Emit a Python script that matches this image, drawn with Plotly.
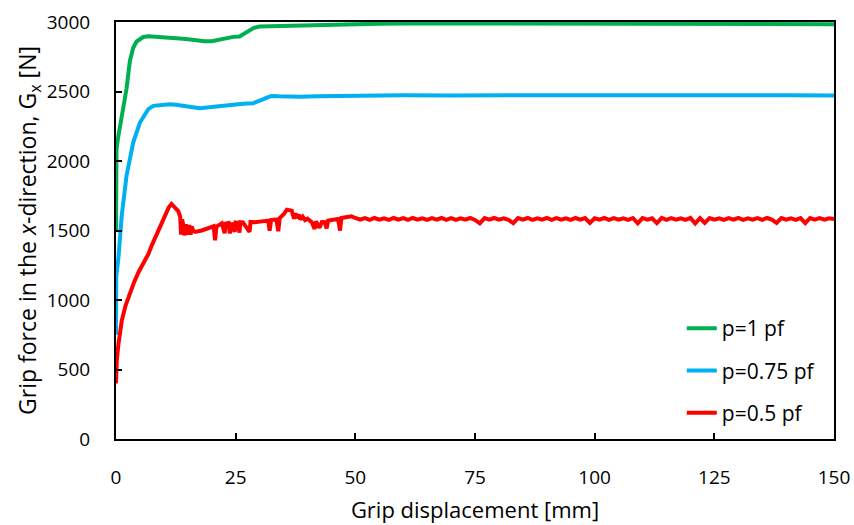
import plotly.graph_objects as go

# ---- data ----
green_x = [0, 0.1, 0.4, 0.9, 1.5, 2.2, 2.9, 3.6, 4.3, 5.0, 5.7, 6.75, 8.0, 9.5, 11.0, 12.5, 14.0,
           15.5, 17.0, 18.5, 20.0, 21.5, 23.0, 24.5, 25.8, 26.8, 27.8, 28.8, 30.0, 32.0, 35.0,
           38.0, 42.0, 46.0, 50.0, 55.0, 60.0, 70.0, 80.0, 90.0, 100.0, 110.0, 120.0, 130.0,
           140.0, 150.0]
green_y = [1490, 2080, 2160, 2260, 2360, 2520, 2720, 2815, 2860, 2880, 2892, 2898, 2896, 2890,
           2888, 2885, 2880, 2874, 2866, 2862, 2862, 2872, 2886, 2893, 2896, 2915, 2938, 2958,
           2968, 2970, 2972, 2976, 2980, 2984, 2988, 2988, 2990, 2990, 2988, 2990, 2988, 2990,
           2988, 2988, 2986, 2984]

blue_x = [0, 0.05, 0.5, 1.2, 2.2, 3.0, 3.6, 5.0, 6.0, 6.75, 7.8, 9.5, 11.3, 12.5, 14.0, 16.0,
          17.5, 19.0, 21.0, 23.0, 24.5, 26.5, 28.7, 30.0, 30.8, 31.8, 32.5, 34.0, 36.0, 38.4,
          42.0, 46.0, 50.0, 60.0, 70.0, 80.0, 90.0, 100.0, 110.0, 120.0, 130.0, 140.0, 150.0]
blue_y = [750, 1170, 1300, 1607, 1894, 2040, 2134, 2277, 2340, 2373, 2397, 2403, 2409, 2405,
          2397, 2388, 2380, 2385, 2392, 2400, 2409, 2412, 2416, 2430, 2445, 2460, 2468, 2465,
          2462, 2462, 2465, 2468, 2472, 2473, 2472, 2473, 2472, 2473, 2472, 2473, 2472, 2473,
          2472]

red_x_start = [0, 0.15, 0.5, 1.2, 2.0, 2.8, 3.8, 4.7, 5.7, 6.75, 7.5, 8.3, 9.2, 10.2, 11.0, 11.6,
               12.3, 13.0, 13.4, 13.6, 13.8, 14.0, 14.3, 14.6, 14.9, 15.3, 15.6, 15.8, 16.1, 16.5,
               17.9, 19.0, 20.4, 20.7, 21.0, 22.1, 22.7, 22.9, 23.5, 23.8, 24.1, 24.8, 25.0, 25.4,
               25.8, 26.0, 26.5, 27.9, 28.1, 29.0, 30.0, 31.0, 31.8, 32.1, 32.4, 33.5, 33.9, 34.2,
               35.0, 35.7, 36.7, 37.2, 37.5, 37.7, 38.2, 38.5, 39.0, 39.5, 40.0, 40.9, 41.5, 41.8,
               42.5, 43.0, 43.6, 44.0, 44.3, 45.0, 46.4, 46.8, 47.1, 48.0, 49.2]
red_y_start = [400, 560, 680, 850, 960, 1040, 1130, 1200, 1260, 1330, 1395, 1460, 1535, 1610, 1665,
               1691, 1670, 1640, 1600, 1470, 1580, 1550, 1465, 1545, 1470, 1540, 1470, 1530, 1500,
               1490, 1500, 1515, 1530, 1430, 1528, 1552, 1480, 1550, 1555, 1478, 1556, 1490, 1558,
               1556, 1485, 1560, 1558, 1490, 1562, 1560, 1565, 1568, 1571, 1499, 1575, 1580, 1495,
               1590, 1615, 1650, 1643, 1585, 1625, 1590, 1615, 1580, 1600, 1575, 1585, 1559, 1511,
               1565, 1520, 1560, 1559, 1515, 1570, 1575, 1583, 1499, 1590, 1595, 1602]
# plateau 50..150 mm, one reading per mm
red_x_plateau = list(range(50, 151))
red_y_plateau = [1590, 1578, 1589, 1577, 1590, 1578, 1588, 1577, 1590, 1578,   # 50-59
                 1589, 1576, 1590, 1578, 1588, 1577, 1589, 1578, 1590, 1577,   # 60-69
                 1589, 1577, 1588, 1578, 1590, 1576, 1552, 1589, 1578, 1590,   # 70-79
                 1578, 1588, 1577, 1553, 1589, 1578, 1590, 1576, 1588, 1578,   # 80-89
                 1590, 1577, 1589, 1578, 1588, 1576, 1590, 1578, 1589, 1554,   # 90-99
                 1588, 1578, 1590, 1576, 1589, 1578, 1588, 1577, 1590, 1552,   # 100-109
                 1589, 1578, 1588, 1553, 1590, 1576, 1589, 1578, 1588, 1577,   # 110-119
                 1590, 1550, 1589, 1554, 1590, 1578, 1588, 1576, 1589, 1578,   # 120-129
                 1590, 1577, 1588, 1578, 1589, 1576, 1590, 1578, 1555, 1589,   # 130-139
                 1578, 1588, 1577, 1589, 1553, 1590, 1578, 1589, 1578, 1588,   # 140-149
                 1582]                                                         # 150
red_x = red_x_start + red_x_plateau
red_y = red_y_start + red_y_plateau

series_names = ["p=1 pf", "p=0.75 pf", "p=0.5 pf"]
x_ticks = [0, 25, 50, 75, 100, 125, 150]
y_ticks = [0, 500, 1000, 1500, 2000, 2500, 3000]

colors = ["#00B050", "#00B0F0", "#FF0000"]
FONT = "Open Sans"

fig = go.Figure()
for i, (xs, ys) in enumerate([(green_x, green_y), (blue_x, blue_y), (red_x, red_y)]):
    fig.add_trace(go.Scatter(
        x=xs, y=ys, mode="lines", name=series_names[i],
        line=dict(color=colors[i], width=4),
        legendgroup=f"g{i}",
    ))

axis_common = dict(
    showgrid=False, zeroline=False, automargin=False,
    showline=True, linecolor="black", linewidth=2, mirror=True,
    ticks="inside", ticklen=6, tickwidth=1.5, tickcolor="black",
    tickfont=dict(family=FONT, size=19, color="black"),
)

fig.update_xaxes(
    range=[0, 150], tickvals=x_ticks, ticktext=[str(v) for v in x_ticks],
    ticklabelstandoff=20,
    title=dict(text="Grip displacement [mm]", font=dict(family=FONT, size=22, color="black"),
               standoff=14),
    **axis_common,
)
fig.update_yaxes(
    range=[0, 3000], tickvals=y_ticks, ticktext=[str(v) for v in y_ticks],
    ticklabelstandoff=20,
    title=dict(text="Grip force in the <i>x</i>-direction, G<sub>x</sub> [N]",
               font=dict(family=FONT, size=23, color="black"), standoff=4),
    **axis_common,
)

fig.update_layout(
    width=854, height=525,
    margin=dict(l=116, r=20, t=22, b=86),
    paper_bgcolor="white", plot_bgcolor="white",
    font=dict(family=FONT, color="black"),
    showlegend=True,
    legend=dict(
        x=0.788, y=0.314, xanchor="left", yanchor="top",
        bgcolor="rgba(0,0,0,0)", borderwidth=0,
        font=dict(family=FONT, size=21, color="black"),
        traceorder="grouped", tracegroupgap=12,
    ),
)

fig.write_html("out.html", config={"displayModeBar": False},
               post_script="document.body.style.margin='0';")
